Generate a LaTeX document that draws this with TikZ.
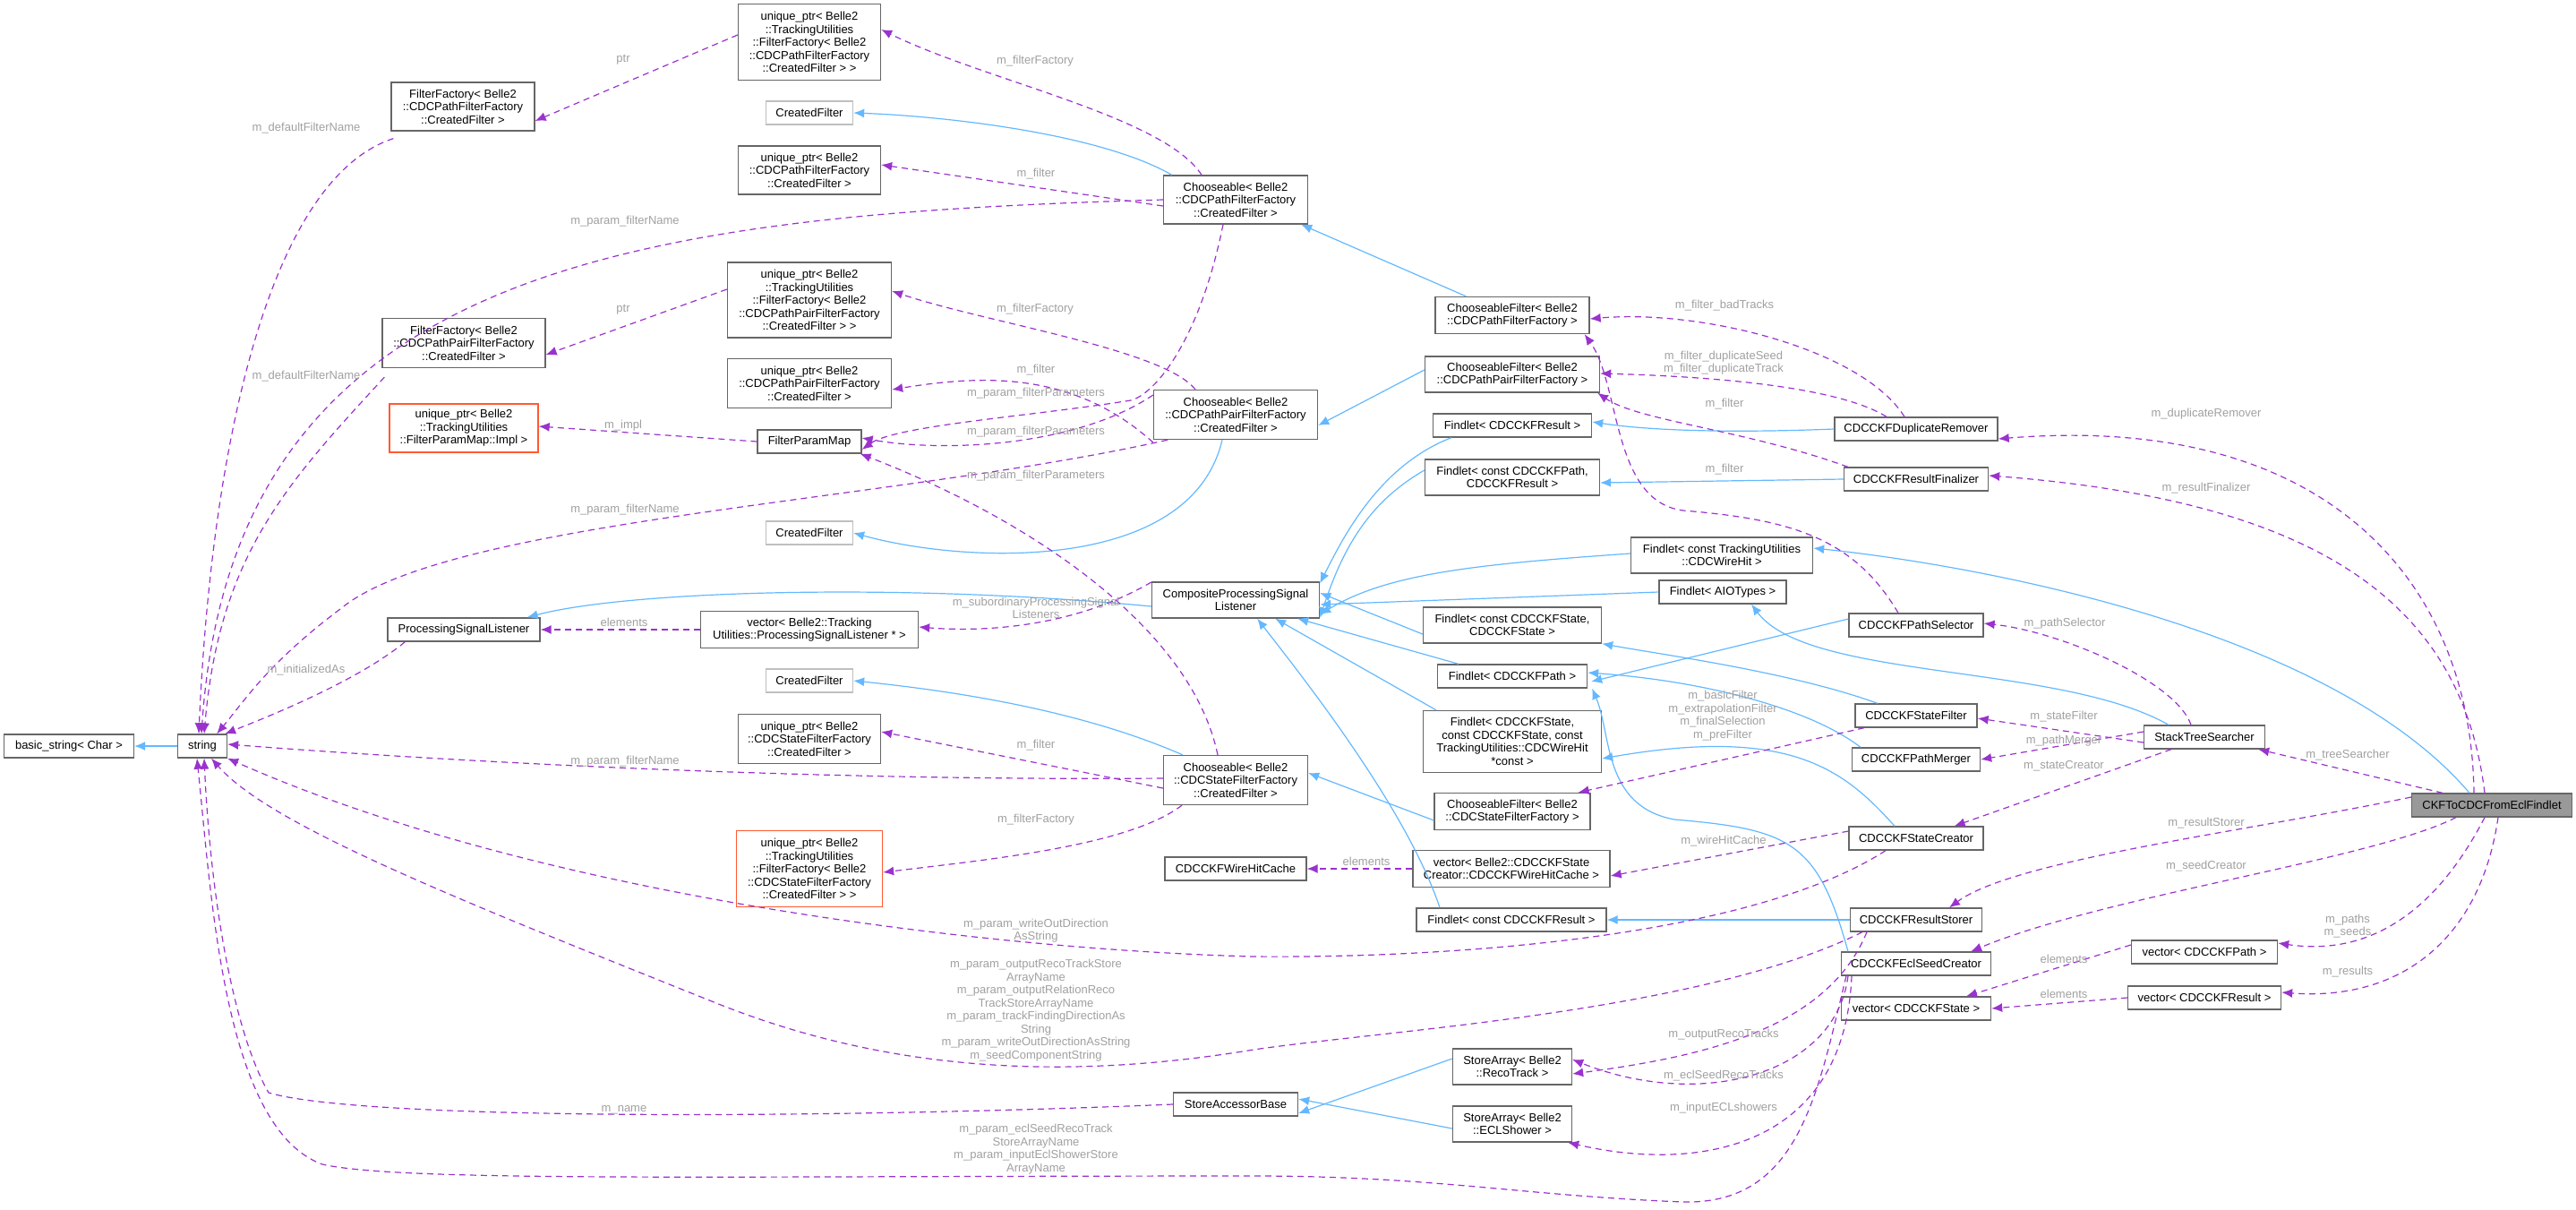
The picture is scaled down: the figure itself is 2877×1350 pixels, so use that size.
\documentclass[tikz,border=0pt]{standalone}
\usepackage{fontspec}
\setmainfont{Liberation Sans}
\usetikzlibrary{arrows.meta}
\definecolor{inhblue}{RGB}{99,184,255}
\definecolor{usepurple}{RGB}{154,50,205}
\definecolor{boxgray}{RGB}{102,102,102}
\definecolor{lightbox}{RGB}{191,191,191}
\definecolor{redbox}{RGB}{255,90,50}
\definecolor{labgray}{RGB}{160,160,160}
\definecolor{mainfill}{RGB}{153,153,153}
\newcommand{\bx}[7][]{\node[box,minimum width=#5pt,minimum height=#6pt,#1] (#2) at (#3,#4) {#7};}
\newcommand{\lb}[4]{\node[lab] (#1) at (#2,#3) {#4};}
\begin{document}
\begin{tikzpicture}[x=1pt,y=-1pt,
  box/.style={draw=boxgray,line width=1.3pt,fill=white,align=center,inner sep=0pt,font=\fontsize{13}{14.5}\selectfont},
  lab/.style={text=labgray,align=center,inner sep=0pt,font=\fontsize{13}{14.5}\selectfont},
  inh/.style={draw=inhblue,line width=1.2pt,-{Latex[length=12pt,width=10pt]}},
  use/.style={draw=usepurple,line width=1.2pt,dash pattern=on 7pt off 5pt,-{Latex[length=12pt,width=10pt]}}]
\useasboundingbox (0,0) rectangle (2877,1350);
% nodes
\bx{bs}{77}{833}{145}{26}{basic\_string< Char >}
\bx{str}{226}{833}{55}{26}{string}
\bx{ffp}{517}{119}{160}{54}{FilterFactory< Belle2\\::CDCPathFilterFactory\\::CreatedFilter >}
\bx{upffp}{904}{47}{159}{85}{unique\_ptr< Belle2\\::TrackingUtilities\\::FilterFactory< Belle2\\::CDCPathFilterFactory\\::CreatedFilter > >}
\bx[draw=lightbox]{cfa}{904}{126}{97}{26}{CreatedFilter}
\bx{upcfp}{904}{190}{159}{54}{unique\_ptr< Belle2\\::CDCPathFilterFactory\\::CreatedFilter >}
\bx{chp}{1380}{223}{161}{54}{Chooseable< Belle2\\::CDCPathFilterFactory\\::CreatedFilter >}
\bx{upffpp}{904}{335}{183}{84}{unique\_ptr< Belle2\\::TrackingUtilities\\::FilterFactory< Belle2\\::CDCPathPairFilterFactory\\::CreatedFilter > >}
\bx{ffpp}{518}{383}{182}{55}{FilterFactory< Belle2\\::CDCPathPairFilterFactory\\::CreatedFilter >}
\bx{upcfpp}{904}{428}{183}{55}{unique\_ptr< Belle2\\::CDCPathPairFilterFactory\\::CreatedFilter >}
\bx[draw=redbox]{impl}{518}{478}{166}{54}{unique\_ptr< Belle2\\::TrackingUtilities\\::FilterParamMap::Impl >}
\bx{fpm}{904}{493}{116}{26}{FilterParamMap}
\bx{chpp}{1380}{463}{183}{55}{Chooseable< Belle2\\::CDCPathPairFilterFactory\\::CreatedFilter >}
\bx[draw=lightbox]{cfb}{904}{595}{97}{26}{CreatedFilter}
\bx{comp}{1380}{670}{187}{40}{CompositeProcessingSignal\\Listener}
\bx{psl}{518}{703}{170}{26}{ProcessingSignalListener}
\bx{vpsl}{904}{703}{243}{41}{vector< Belle2::Tracking\\Utilities::ProcessingSignalListener * >}
\bx[draw=lightbox]{cfc}{904}{760}{97}{26}{CreatedFilter}
\bx{upcfs}{904}{825}{159}{55}{unique\_ptr< Belle2\\::CDCStateFilterFactory\\::CreatedFilter >}
\bx{chs}{1380}{871}{161}{55}{Chooseable< Belle2\\::CDCStateFilterFactory\\::CreatedFilter >}
\bx[draw=redbox]{upffs}{904}{970}{163}{85}{unique\_ptr< Belle2\\::TrackingUtilities\\::FilterFactory< Belle2\\::CDCStateFilterFactory\\::CreatedFilter > >}
\bx{whc}{1380}{970}{158}{26}{CDCCKFWireHitCache}
\bx{sab}{1380}{1233}{139}{26}{StoreAccessorBase}
\bx{cfltp}{1689}{352}{172}{41}{ChooseableFilter< Belle2\\::CDCPathFilterFactory >}
\bx{cfltpp}{1689}{418}{195}{40}{ChooseableFilter< Belle2\\::CDCPathPairFilterFactory >}
\bx{fres}{1689}{475}{177}{26}{Findlet< CDCCKFResult >}
\bx{fpathres}{1689}{533}{195}{40}{Findlet< const CDCCKFPath,\\CDCCKFResult >}
\bx{dup}{2140}{479}{182}{26}{CDCCKFDuplicateRemover}
\bx{fin}{2140}{535}{161}{26}{CDCCKFResultFinalizer}
\bx{fwh}{1923}{620}{203}{40}{Findlet< const TrackingUtilities\\::CDCWireHit >}
\bx{faio}{1924}{661}{142}{26}{Findlet< AIOTypes >}
\bx{fss}{1689}{698}{199}{40}{Findlet< const CDCCKFState,\\CDCCKFState >}
\bx{psel}{2140}{698}{150}{26}{CDCCKFPathSelector}
\bx{fpath}{1689}{755}{167}{26}{Findlet< CDCCKFPath >}
\bx{sfilt}{2140}{799}{136}{26}{CDCCKFStateFilter}
\bx{fswh}{1689}{828}{199}{69}{Findlet< CDCCKFState,\\const CDCCKFState, const\\TrackingUtilities::CDCWireHit\\*const >}
\bx{sts}{2462}{823}{135}{26}{StackTreeSearcher}
\bx{pmerge}{2140}{848}{143}{26}{CDCCKFPathMerger}
\bx{cflts}{1689}{906}{174}{41}{ChooseableFilter< Belle2\\::CDCStateFilterFactory >}
\bx[fill=mainfill]{main}{2783}{899}{179}{26}{CKFToCDCFromEclFindlet}
\bx{screat}{2140}{936}{150}{26}{CDCCKFStateCreator}
\bx{vwhc}{1688}{970}{220}{41}{vector< Belle2::CDCCKFState\\Creator::CDCCKFWireHitCache >}
\bx{fcres}{1688}{1027}{212}{26}{Findlet< const CDCCKFResult >}
\bx{rstore}{2140}{1027}{147}{26}{CDCCKFResultStorer}
\bx{ecl}{2140}{1076}{167}{26}{CDCCKFEclSeedCreator}
\bx{vpath}{2462}{1063}{163}{26}{vector< CDCCKFPath >}
\bx{vstate}{2140}{1126}{167}{26}{vector< CDCCKFState >}
\bx{vres}{2462}{1114}{171}{26}{vector< CDCCKFResult >}
\bx{sart}{1689}{1191}{133}{40}{StoreArray< Belle2\\::RecoTrack >}
\bx{sare}{1689}{1255}{133}{40}{StoreArray< Belle2\\::ECLShower >}
% inheritance
\draw[inh] (str) -- (bs);
\draw[inh] ([xshift=10]chp.north west) .. controls (1230,150) and (1060,130) .. (cfa.east);
\draw[inh] ([xshift=35]cfltp.north west) -- ([xshift=-8]chp.south east);
\draw[inh] ([xshift=-15]chpp.south) .. controls (1330,640) and (1080,630) .. (cfb.east);
\draw[inh] ([yshift=5]cfltpp.west) -- ([yshift=-12]chpp.east);
\draw[inh] ([yshift=-7]comp.west) .. controls (1000,650) and (700,660) .. ([xshift=-15]psl.north east);
\draw[inh] ([xshift=22]chs.north west) .. controls (1200,790) and (1050,770) .. (cfc.east);
\draw[inh] ([yshift=-10]cflts.west) -- ([yshift=8]chs.east);
\draw[inh] ([xshift=-68]fres.south) .. controls (1540,520) and (1500,600) .. ([yshift=-2]comp.north east);
\draw[inh] ([yshift=8]fpathres.west) .. controls (1530,560) and (1500,610) .. ([yshift=-20]comp.east);
\draw[inh] ([yshift=2]fwh.west) .. controls (1650,630) and (1550,640) .. ([yshift=-16]comp.east);
\draw[inh] (faio.west) -- ([yshift=-5]comp.east);
\draw[inh] ([yshift=-10]fss.west) -- ([yshift=8]comp.east);
\draw[inh] ([xshift=-60]fpath.north) -- ([xshift=-25]comp.south east);
\draw[inh] ([xshift=-85]fswh.north) -- ([xshift=-50]comp.south east);
\draw[inh] ([xshift=-80]fcres.north) .. controls (1570,900) and (1450,750) .. ([xshift=-70]comp.south east);
\draw[inh] (dup.west) .. controls (1950,483) and (1850,482) .. ([yshift=4]fres.east);
\draw[inh] (fin.west) -- ([yshift=-6]fpathres.east);
\draw[inh] ([xshift=-25]main.north) .. controls (2600,700) and (2200,630) .. ([yshift=8]fwh.east);
\draw[inh] ([xshift=-40]sts.north) .. controls (2300,740) and (2020,760) .. ([xshift=32]faio.south);
\draw[inh] ([xshift=-43]sfilt.north) .. controls (2000,750) and (1850,730) .. (fss.south east);
\draw[inh] ([yshift=7]psel.west) -- ([xshift=4,yshift=-6]fpath.east);
\draw[inh] ([xshift=-62]pmerge.north) .. controls (2020,790) and (1900,760) .. ([yshift=4]fpath.east);
\draw[inh] ([xshift=-24]screat.north) .. controls (2060,860) and (2000,810) .. ([yshift=-19]fswh.east);
\draw[inh] (rstore.west) -- (fcres.east);
\draw[inh] ([xshift=-76]ecl.north) .. controls (2030,940) and (2000,926) .. (1870,915) .. controls (1790,900) and (1800,820) .. ([xshift=5]fpath.south east);
\draw[inh] ([yshift=9]sart.west) -- ([yshift=-10]sab.east);
\draw[inh] ([yshift=-5]sare.west) -- ([yshift=6]sab.east);
% usage
\draw[use] ([yshift=8]upffp.west) -- ([yshift=-16]ffp.east);
\draw[use] ([xshift=3,yshift=-8]ffp.south west) .. controls (300,200) and (236,500) .. ([xshift=-4]str.north);
\draw[use] ([xshift=-38]chp.north) .. controls (1300,130) and (1100,90) .. ([yshift=14]upffp.east);
\draw[use] ([yshift=-7]chp.west) -- ([yshift=6]upcfp.east);
\draw[use] (chp.west) .. controls (700,240) and (260,300) .. ([xshift=-1]str.north);
\draw[use] ([xshift=-14]chp.south) .. controls (1340,380) and (1290,440) .. (1263,447) .. controls (1150,465) and (1000,475) .. ([yshift=-9]fpm.east);
\draw[use] ([yshift=12]upffpp.west) -- ([yshift=-13]ffpp.east);
\draw[use] ([xshift=3,yshift=-10]ffpp.south west) .. controls (320,540) and (245,620) .. ([xshift=2]str.north);
\draw[use] ([xshift=-45]chpp.north) .. controls (1300,390) and (1100,360) .. ([yshift=10]upffpp.east);
\draw[use] ([yshift=-31]chpp.west) .. controls (1200,415) and (1100,418) .. ([yshift=-7]upcfpp.east);
\draw[use] ([yshift=22]chpp.west) .. controls (1200,500) and (1050,505) .. ([yshift=4]fpm.east);
\draw[use] ([xshift=-76]chpp.south) .. controls (1000,560) and (500,580) .. (380,680) .. controls (300,740) and (275,780) .. ([xshift=-12]str.north east);
\draw[use] (fpm.west) -- ([yshift=2]impl.east);
\draw[use] ([xshift=-20]chs.north) .. controls (1330,700) and (1150,580) .. ([xshift=-2]fpm.south east);
\draw[use] ([yshift=20]comp.west) .. controls (1200,700) and (1100,706) .. ([yshift=3]vpsl.east);
\draw[use] (vpsl.west) -- (psl.east);
\draw[use] ([xshift=20]psl.south west) .. controls (400,760) and (300,800) .. ([xshift=-3]str.north east);
\draw[use] ([yshift=-9]chs.west) -- ([yshift=8]upcfs.east);
\draw[use] ([yshift=2]chs.west) .. controls (900,872) and (500,850) .. ([yshift=2]str.east);
\draw[use] ([xshift=-60]chs.south) .. controls (1260,945) and (1100,960) .. ([yshift=-4]upffs.east);
\draw[use] ([xshift=-34]screat.south) .. controls (1950,1050) and (1600,1070) .. (1400,1068) .. controls (1100,1060) and (600,1000) .. (str.south east);
\draw[use] ([xshift=-60]rstore.south) .. controls (1900,1130) and (1550,1150) .. (1400,1172) .. controls (1200,1205) and (1000,1200) .. (800,1120) .. controls (500,1000) and (300,920) .. ([xshift=10]str.south);
\draw[use] (sab.west) .. controls (900,1250) and (400,1250) .. (300,1220) .. controls (260,1150) and (235,1000) .. ([xshift=2]str.south);
\draw[use] ([xshift=-78]ecl.south) .. controls (2030,1220) and (2010,1345) .. (1880,1342) .. controls (1700,1335) and (1600,1313) .. (1400,1313) .. controls (800,1313) and (450,1320) .. (360,1300) .. controls (250,1260) and (236,1000) .. ([xshift=-6]str.south);
\draw[use] ([xshift=-55]rstore.south) .. controls (2040,1150) and (1900,1180) .. ([yshift=-8]sart.east);
\draw[use] ([xshift=-76]ecl.south) .. controls (2050,1200) and (1900,1240) .. ([yshift=8]sart.east);
\draw[use] ([xshift=-72]ecl.south) .. controls (2060,1280) and (1900,1310) .. ([xshift=-5]sare.south east);
\draw[use] ([xshift=-13]dup.north) .. controls (2080,390) and (1900,345) .. ([yshift=-4]cfltp.east);
\draw[use] ([xshift=-33]dup.north) .. controls (2050,430) and (1900,420) .. ([yshift=1]cfltpp.east);
\draw[use] ([xshift=5]fin.north west) .. controls (1950,480) and (1830,470) .. ([xshift=-3]cfltpp.south east);
\draw[use] ([xshift=-20]psel.north) .. controls (2070,600) and (2000,580) .. (1880,570) .. controls (1800,560) and (1810,430) .. ([xshift=-6]cfltp.south east);
\draw[use] ([xshift=-20]main.north) .. controls (2760,650) and (2600,460) .. ([yshift=-11]dup.east);
\draw[use] ([xshift=-8]main.north) .. controls (2750,680) and (2600,560) .. ([yshift=4]fin.east);
\draw[use] ([xshift=-15]sts.north) .. controls (2430,760) and (2300,705) .. ([yshift=2]psel.east);
\draw[use] ([yshift=-6]sts.west) -- ([yshift=-3]sfilt.east);
\draw[use] ([yshift=6]sts.west) -- (pmerge.east);
\draw[use] ([xshift=-37]sts.south) -- ([xshift=-33]screat.north east);
\draw[use] ([xshift=-58]sfilt.south) -- ([xshift=-14]cflts.north east);
\draw[use] ([xshift=-55]main.north) -- ([xshift=-8]sts.south east);
\draw[use] ([yshift=9]main.west) .. controls (2500,930) and (2250,960) .. ([xshift=37]rstore.north);
\draw[use] ([xshift=-40]main.south) .. controls (2650,960) and (2350,1000) .. ([xshift=-23]ecl.north east);
\draw[use] ([xshift=-8]main.south) .. controls (2730,1000) and (2660,1070) .. ([yshift=10]vpath.east);
\draw[use] ([xshift=7]main.south) .. controls (2770,1050) and (2680,1118) .. ([yshift=6]vres.east);
\draw[use] ([yshift=8]vpath.west) -- ([xshift=56]vstate.north);
\draw[use] (vres.west) -- (vstate.east);
\draw[use] ([yshift=8]screat.west) -- ([yshift=-8]vwhc.east);
\draw[use] (vwhc.west) -- (whc.east);
% labels
\lb{l1}{696}{67}{ptr}
\lb{l2}{342}{143}{m\_defaultFilterName}
\lb{l3}{1156}{68}{m\_filterFactory}
\lb{l4}{1157}{194}{m\_filter}
\lb{l5}{698}{247}{m\_param\_filterName}
\lb{l6}{696}{346}{ptr}
\lb{l7}{1156}{345}{m\_filterFactory}
\lb{l8}{342}{420}{m\_defaultFilterName}
\lb{l9}{1157}{413}{m\_filter}
\lb{l10}{1157}{439}{m\_param\_filterParameters}
\lb{l11}{696}{475}{m\_impl}
\lb{l12}{1157}{482}{m\_param\_filterParameters}
\lb{l13}{1157}{531}{m\_param\_filterParameters}
\lb{l14}{698}{569}{m\_param\_filterName}
\lb{l15}{1157}{679}{m\_subordinaryProcessingSignal\\Listeners}
\lb{l16}{697}{695}{elements}
\lb{l17}{342}{748}{m\_initializedAs}
\lb{l18}{1157}{832}{m\_filter}
\lb{l19}{698}{850}{m\_param\_filterName}
\lb{l20}{1157}{915}{m\_filterFactory}
\lb{l21}{1157}{1039}{m\_param\_writeOutDirection\\AsString}
\lb{l22}{1157}{1128}{m\_param\_outputRecoTrackStore\\ArrayName\\m\_param\_outputRelationReco\\TrackStoreArrayName\\m\_param\_trackFindingDirectionAs\\String\\m\_param\_writeOutDirectionAsString\\m\_seedComponentString}
\lb{l23}{697}{1239}{m\_name}
\lb{l24}{1157}{1283}{m\_param\_eclSeedRecoTrack\\StoreArrayName\\m\_param\_inputEclShowerStore\\ArrayName}
\lb{l25}{1926}{341}{m\_filter\_badTracks}
\lb{l26}{1925}{405}{m\_filter\_duplicateSeed\\m\_filter\_duplicateTrack}
\lb{l27}{1926}{451}{m\_filter}
\lb{l28}{2464}{462}{m\_duplicateRemover}
\lb{l29}{1926}{524}{m\_filter}
\lb{l30}{2464}{545}{m\_resultFinalizer}
\lb{l31}{2306}{696}{m\_pathSelector}
\lb{l32}{1924}{799}{m\_basicFilter\\m\_extrapolationFilter\\m\_finalSelection\\m\_preFilter}
\lb{l33}{2305}{800}{m\_stateFilter}
\lb{l34}{2305}{827}{m\_pathMerger}
\lb{l35}{2305}{855}{m\_stateCreator}
\lb{l36}{2622}{843}{m\_treeSearcher}
\lb{l37}{2464}{919}{m\_resultStorer}
\lb{l38}{1925}{939}{m\_wireHitCache}
\lb{l39}{1526}{962}{elements}
\lb{l40}{2464}{967}{m\_seedCreator}
\lb{l41}{2622}{1034}{m\_paths\\m\_seeds}
\lb{l42}{2305}{1071}{elements}
\lb{l43}{2622}{1085}{m\_results}
\lb{l44}{2305}{1110}{elements}
\lb{l45}{1925}{1155}{m\_outputRecoTracks}
\lb{l46}{1925}{1201}{m\_eclSeedRecoTracks}
\lb{l47}{1925}{1237}{m\_inputECLshowers}
\end{tikzpicture}
\end{document}
